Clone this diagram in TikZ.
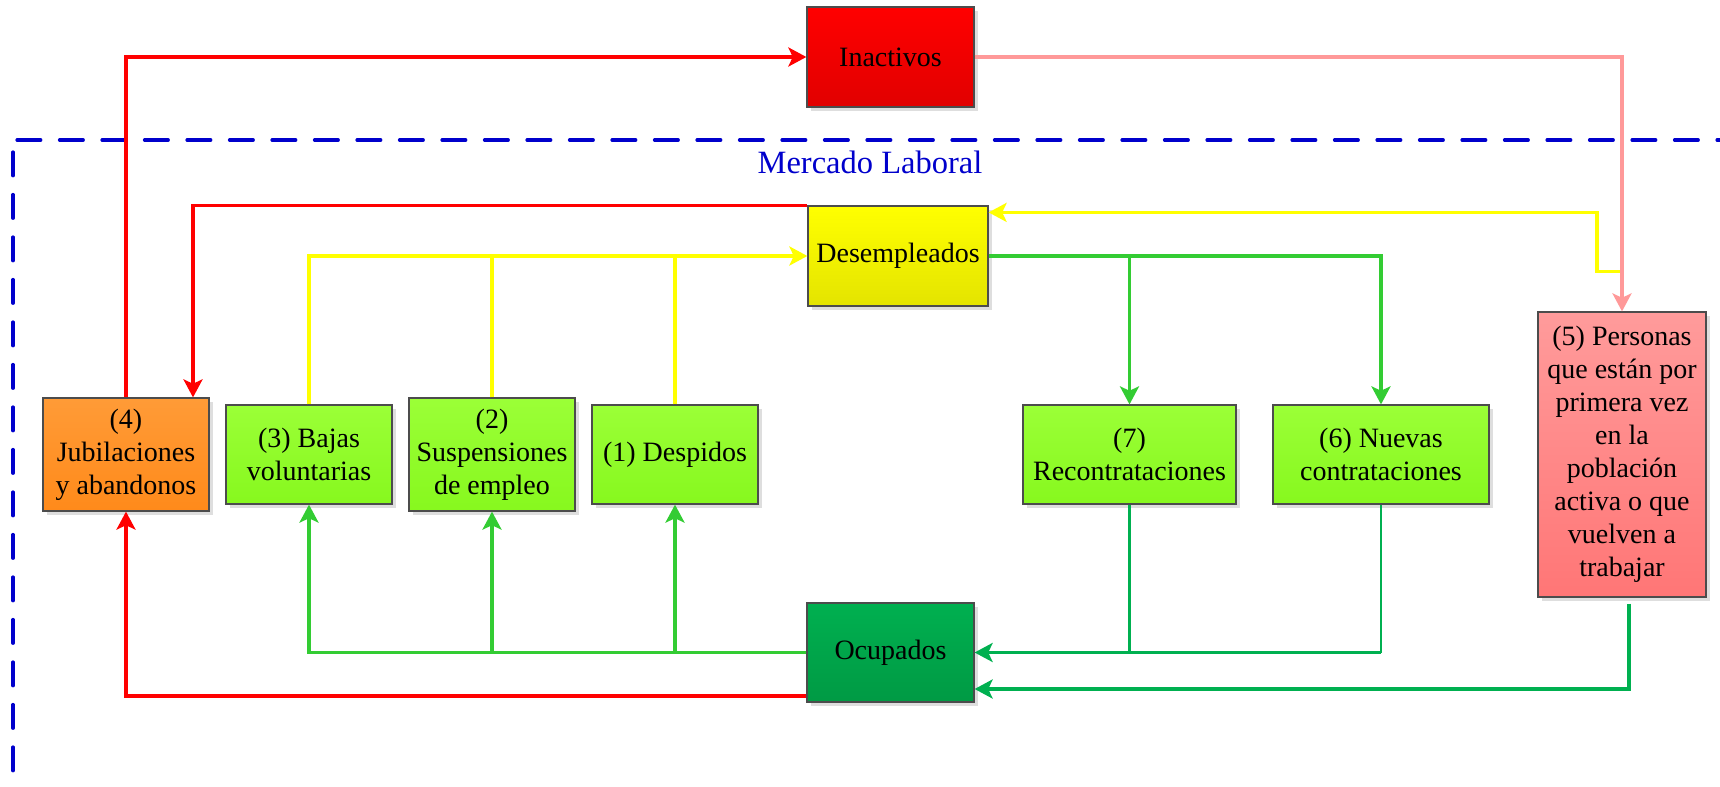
\documentclass[tikz,border=0pt]{standalone}
\usepackage{fontspec}
\setmainfont{Liberation Serif}
\usetikzlibrary{arrows.meta,shadows,calc}
\definecolor{cRed}{HTML}{FF0000}
\definecolor{cPink}{HTML}{FF9999}
\definecolor{cYel}{HTML}{FFFF00}
\definecolor{cGl}{HTML}{33CC33}
\definecolor{cGd}{HTML}{00B050}
\definecolor{cBlue}{HTML}{0000CC}
\tikzset{
  box/.style={draw=black!70, line width=0.6pt, align=center, inner sep=2pt,
    font=\fontsize{14}{16.5}\selectfont, text=black,
    drop shadow={shadow xshift=2pt, shadow yshift=-2pt, fill=black!13, opacity=1}},
  redbox/.style={box, top color=red, bottom color={rgb,255:red,225;green,0;blue,0}},
  yelbox/.style={box, top color=cYel, bottom color={rgb,255:red,228;green,228;blue,0}},
  ocubox/.style={box, top color=cGd, bottom color={rgb,255:red,0;green,154;blue,68}},
  orbox/.style={box, top color={rgb,255:red,255;green,155;blue,55}, bottom color={rgb,255:red,255;green,138;blue,26}},
  grbox/.style={box, top color={rgb,255:red,155;green,255;blue,55}, bottom color={rgb,255:red,135;green,248;blue,30}},
  pkbox/.style={box, top color={rgb,255:red,255;green,155;blue,155}, bottom color={rgb,255:red,255;green,118;blue,118}},
  arr/.style={-{Stealth[length=9pt,width=9.5pt,inset=2.2pt]}},
  ln/.style={line width=1.7pt},
  rd/.style={ln, draw=cRed},
  pk/.style={ln, draw=cPink},
  yl/.style={ln, draw=cYel},
  gl/.style={ln, draw=cGl},
  gd/.style={ln, draw=cGd},
  frame/.style={draw=cBlue, line width=1.6pt, line cap=round, dash pattern=on 11.9pt off 9.35pt},
}
\begin{document}
\begin{tikzpicture}[x=0.5pt,y=-0.5pt]
\useasboundingbox (0,0) rectangle (1720,787);
% frame of the labour market
\draw[frame] (17,140) -- (1730,140);
\draw[frame] (13,152) -- (13,800);
\node[text=cBlue, font=\fontsize{16.25}{19}\selectfont, anchor=base] (ml) at (870,173) {Mercado Laboral};

% nodes
\node[redbox, minimum width=83.5pt, minimum height=50pt] (ina) at (890.5,57) {Inactivos};
\node[yelbox, minimum width=90pt, minimum height=50pt] (des) at (898,256) {Desempleados};
\node[ocubox, minimum width=83.5pt, minimum height=49.5pt] (ocu) at (890.5,652.5) {Ocupados};
\node[orbox, minimum width=83pt, minimum height=56.5pt] (n4) at (126,454.5) {(4)\\Jubilaciones\\y abandonos};
\node[grbox, minimum width=83pt, minimum height=49.5pt] (n3) at (309,454.5) {(3) Bajas\\voluntarias};
\node[grbox, minimum width=83pt, minimum height=56.5pt] (n2) at (492,454.5) {(2)\\Suspensiones\\de empleo};
\node[grbox, minimum width=83pt, minimum height=49.5pt] (n1) at (675,454.5) {(1) Despidos};
\node[grbox, minimum width=106.5pt, minimum height=49.5pt] (n7) at (1129.5,454.5) {(7)\\Recontrataciones};
\node[grbox, minimum width=108pt, minimum height=49.5pt] (n6) at (1381,454.5) {(6) Nuevas\\contrataciones};
\node[pkbox, minimum width=84pt, minimum height=142.5pt] (n5) at (1622,454.5) {(5) Personas\\que están por\\primera vez\\en la\\población\\activa o que\\vuelven a\\trabajar};

% connectors
\coordinate (yb) at ([yshift=20pt]n5.north);
\draw[yl,arr] (yb) -- ++(-25,0) |- ([yshift=-3.5pt]des.north east);
\draw[pk,arr] (ina.east) -| (n5.north);
\draw[rd,arr] (n4.north) |- (ina.west);
\draw[rd,arr] (des.north west) -| ([xshift=33.5pt]n4.north);
\draw[yl,arr] (n3.north) |- (des.west);
\draw[yl] (n2.north) -- (n2.north |- des.west);
\draw[yl] (n1.north) -- (n1.north |- des.west);
\draw[gl,arr] (des.east) -| (n6.north);
\draw[gl,arr] (des.east -| n7.north) -- (n7.north);
\draw[gl,arr] (ocu.west) -| (n3.south);
\draw[gl,arr] (ocu.west -| n2.south) -- (n2.south);
\draw[gl,arr] (ocu.west -| n1.south) -- (n1.south);
\draw[gd,line width=1.2pt] (n7.south) -- (n7.south |- ocu.east);
\draw[gd,line width=1.2pt] (n6.south) -- (n6.south |- ocu.east);
\draw[gd,arr] (n6.south |- ocu.east) -- (ocu.east);
\draw[gd,arr] ([xshift=3.5pt,yshift=-3pt]n5.south) |- ([yshift=-18.25pt]ocu.east);
\draw[rd,arr] ([yshift=-21.75pt]ocu.west) -| (n4.south);
\end{tikzpicture}
\end{document}
